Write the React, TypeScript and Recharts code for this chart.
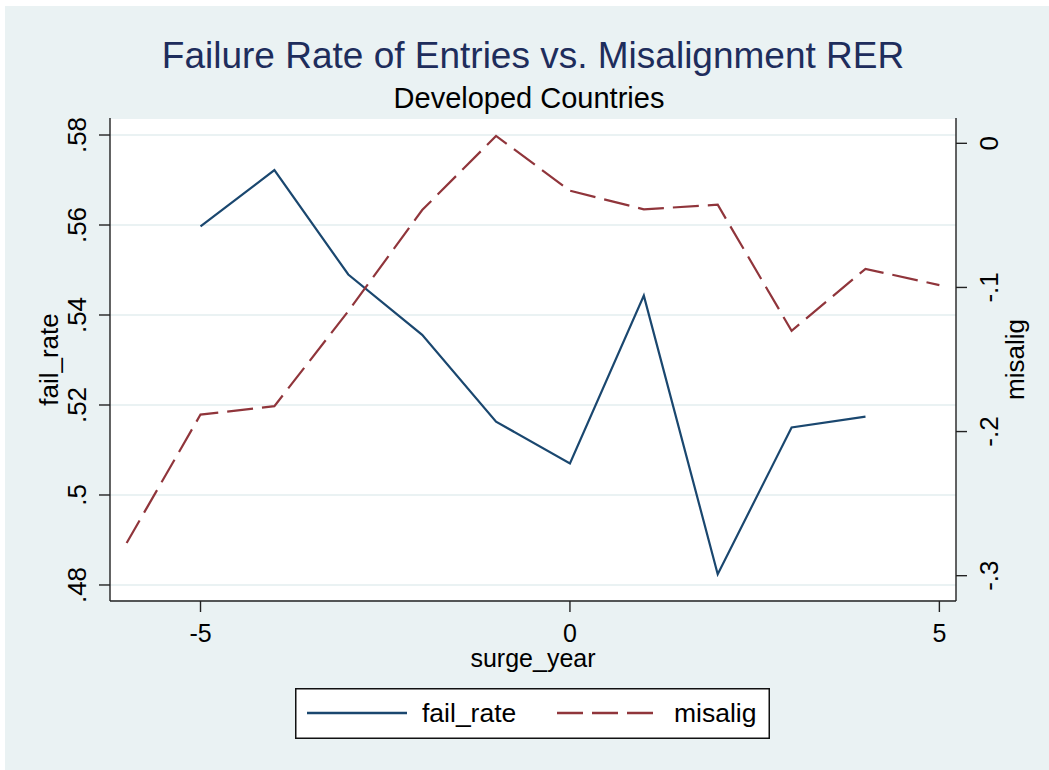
import React from 'react';
import { LineChart, Line, XAxis, YAxis, CartesianGrid, Legend } from 'recharts';

const surgeYear = [-6, -5, -4, -3, -2, -1, 0, 1, 2, 3, 4, 5];
const failRate = [null, 0.5597, 0.5722, 0.549, 0.5356, 0.5163, 0.507, 0.5443, 0.4824, 0.515, 0.5174, null];
const misalig = [-0.2773, -0.1882, -0.1824, -0.1165, -0.0463, 0.0051, -0.0329, -0.0458, -0.0426, -0.1301, -0.0871, -0.0984];

const xTicks = [-5, 0, 5];
const leftTicks = [0.48, 0.5, 0.52, 0.54, 0.56, 0.58];
const rightTicks = [-0.3, -0.2, -0.1, 0];

const data = surgeYear.map((s, i) => ({ surge_year: s, fail_rate: failRate[i], misalig: misalig[i] }));

const FONT = '"Liberation Sans", Arial, Helvetica, sans-serif';
const BG = '#eaf2f3';
const BLUE = '#1a476f';
const RED = '#90353b';
const TITLE = '#1e2d5c';
const DASH = '26 9';
const axisStyle = { stroke: '#222', strokeWidth: 1.4 };

// stata style numbers: .5, -.1
const fmt = (v: number) => String(Number(v.toFixed(2))).replace(/^(-?)0\./, '$1.');

const XTick = (props: any) => {
  const { x, y, payload } = props;
  return (
    <text x={x} y={y + 17.5} textAnchor="middle" fontSize={25} fontFamily={FONT} fill="#000">
      {fmt(payload.value)}
    </text>
  );
};

const YTick = (props: any) => {
  const { x, y, payload } = props;
  return (
    <text x={x} y={y} transform={`rotate(-90 ${x} ${y})`} textAnchor="middle" fontSize={26} fontFamily={FONT} fill="#000">
      {fmt(payload.value)}
    </text>
  );
};

const vTitle = (text: string, dx: number) => (props: any) => {
  const vb = props.viewBox;
  const x = vb.x + dx;
  const y = vb.y + vb.height / 2;
  return (
    <text x={x} y={y} transform={`rotate(-90 ${x} ${y})`} textAnchor="middle" fontSize={26} fontFamily={FONT} fill="#000">
      {text}
    </text>
  );
};

const xTitle = (props: any) => {
  const vb = props.viewBox;
  return (
    <text x={vb.x + vb.width / 2} y={vb.y + 66} textAnchor="middle" fontSize={25} fontFamily={FONT} fill="#000">
      surge_year
    </text>
  );
};

const LegendBox = () => (
  <svg width={475} height={51} style={{ display: 'block' }}>
    <rect x={0.75} y={0.75} width={473.5} height={49.5} fill="#fff" stroke="#111" strokeWidth={1.5} />
    <line x1={12} x2={112} y1={25} y2={25} stroke={BLUE} strokeWidth={2.4} />
    <text x={127} y={33.5} fontSize={26.5} fontFamily={FONT} fill="#000">fail_rate</text>
    <line x1={262} x2={362} y1={25} y2={25} stroke={RED} strokeWidth={2.4} strokeDasharray={DASH} />
    <text x={379} y={33.5} fontSize={26.5} fontFamily={FONT} fill="#000">misalig</text>
  </svg>
);

export default function App() {
  return (
    <div style={{ position: 'fixed', left: 5, top: 6, width: 1044, height: 764, background: BG }}>
      <LineChart width={1044} height={764} data={data} margin={{ top: 112, right: 0, bottom: 69, left: 0 }}>
        <CartesianGrid yAxisId="left" vertical={false} stroke={BG} strokeWidth={2} fill="#fff" />
        <XAxis
          dataKey="surge_year"
          type="number"
          domain={[-6.225, 5.225]}
          allowDataOverflow
          ticks={xTicks}
          interval={0}
          height={100}
          tickSize={11}
          tickMargin={12}
          tick={<XTick />}
          axisLine={axisStyle}
          tickLine={axisStyle}
          label={xTitle}
        />
        <YAxis
          yAxisId="left"
          orientation="left"
          width={105}
          domain={[0.47644, 0.58378]}
          allowDataOverflow
          ticks={leftTicks}
          interval={0}
          tickSize={11}
          tickMargin={13}
          tick={<YTick />}
          axisLine={axisStyle}
          tickLine={axisStyle}
          label={vTitle('fail_rate', 53.3)}
        />
        <YAxis
          yAxisId="right"
          orientation="right"
          width={93}
          domain={[-0.31757, 0.01757]}
          allowDataOverflow
          ticks={rightTicks}
          interval={0}
          tickSize={11}
          tickMargin={31}
          tick={<YTick />}
          axisLine={axisStyle}
          tickLine={axisStyle}
          label={vTitle('misalig', 67.5)}
        />
        <Line
          yAxisId="left"
          type="linear"
          dataKey="fail_rate"
          name="fail_rate"
          stroke={BLUE}
          strokeWidth={2.2}
          dot={false}
          activeDot={false}
          isAnimationActive={false}
        />
        <Line
          yAxisId="right"
          type="linear"
          dataKey="misalig"
          name="misalig"
          stroke={RED}
          strokeWidth={2.2}
          strokeDasharray={DASH}
          dot={false}
          activeDot={false}
          isAnimationActive={false}
        />
        <Legend
          layout="horizontal"
          verticalAlign="middle"
          align="center"
          wrapperStyle={{ left: 290, top: 682, width: 475, height: 51 }}
          content={() => <LegendBox />}
        />
      </LineChart>
      <svg width={1044} height={764} style={{ position: 'absolute', left: 0, top: 0, pointerEvents: 'none' }}>
        <text x={528} y={62.3} textAnchor="middle" fontSize={37} fontFamily={FONT} fill={TITLE}>
          Failure Rate of Entries vs. Misalignment RER
        </text>
        <text x={524} y={101.5} textAnchor="middle" fontSize={29} fontFamily={FONT} fill="#000">
          Developed Countries
        </text>
      </svg>
    </div>
  );
}
